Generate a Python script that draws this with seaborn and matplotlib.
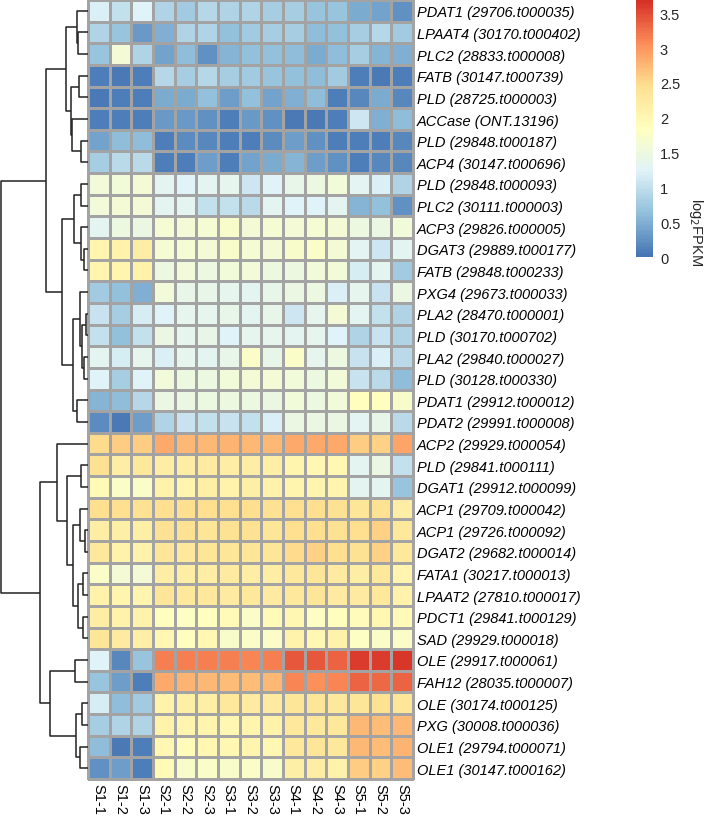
import numpy as np
import pandas as pd
import matplotlib
matplotlib.use("Agg")
import matplotlib.pyplot as plt
from matplotlib.colors import LinearSegmentedColormap
import seaborn as sns

sns.set_style("white")
plt.rcParams['font.family'] = ['Liberation Sans', 'DejaVu Sans']

samples = ["S1-1", "S1-2", "S1-3", "S2-1", "S2-2", "S2-3", "S3-1", "S3-2", "S3-3",
           "S4-1", "S4-2", "S4-3", "S5-1", "S5-2", "S5-3"]

genes = [
    "PDAT1 (29706.t000035)", "LPAAT4 (30170.t000402)", "PLC2 (28833.t000008)",
    "FATB (30147.t000739)", "PLD (28725.t000003)", "ACCase (ONT.13196)",
    "PLD (29848.t000187)", "ACP4 (30147.t000696)", "PLD (29848.t000093)",
    "PLC2 (30111.t000003)", "ACP3 (29826.t000005)", "DGAT3 (29889.t000177)",
    "FATB (29848.t000233)", "PXG4 (29673.t000033)", "PLA2 (28470.t000001)",
    "PLD (30170.t000702)", "PLA2 (29840.t000027)", "PLD (30128.t000330)",
    "PDAT1 (29912.t000012)", "PDAT2 (29991.t000008)", "ACP2 (29929.t000054)",
    "PLD (29841.t000111)", "DGAT1 (29912.t000099)", "ACP1 (29709.t000042)",
    "ACP1 (29726.t000092)", "DGAT2 (29682.t000014)", "FATA1 (30217.t000013)",
    "LPAAT2 (27810.t000017)", "PDCT1 (29841.t000129)", "SAD (29929.t000018)",
    "OLE (29917.t000061)", "FAH12 (28035.t000007)", "OLE (30174.t000125)",
    "PXG (30008.t000036)", "OLE1 (29794.t000071)", "OLE1 (30147.t000162)",
]

values = [
    [1.20, 1.00, 1.25, 0.85, 0.75, 0.90, 0.85, 0.85, 0.80, 0.80, 0.70, 0.70, 0.45, 0.40, 0.25],
    [0.85, 0.70, 0.30, 0.50, 0.85, 0.85, 0.65, 0.75, 0.80, 0.80, 0.60, 0.65, 0.80, 0.90, 0.75],
    [0.70, 1.60, 0.85, 0.40, 0.60, 0.25, 0.55, 0.65, 0.65, 0.60, 0.45, 0.60, 0.80, 0.55, 0.50],
    [0.10, 0.05, 0.10, 0.90, 0.80, 0.90, 0.80, 0.75, 0.70, 0.65, 0.60, 0.75, 0.10, 0.05, 0.10],
    [0.05, 0.10, 0.10, 0.45, 0.45, 0.65, 0.35, 0.65, 0.40, 0.50, 0.60, 0.10, 0.15, 0.45, 0.15],
    [0.10, 0.10, 0.10, 0.30, 0.30, 0.25, 0.10, 0.30, 0.25, 0.05, 0.05, 0.10, 1.10, 0.50, 0.60],
    [0.40, 0.60, 0.60, 0.10, 0.20, 0.15, 0.10, 0.10, 0.20, 0.35, 0.25, 0.10, 0.10, 0.10, 0.15],
    [0.80, 0.95, 0.95, 0.10, 0.10, 0.35, 0.10, 0.40, 0.45, 0.55, 0.35, 0.25, 0.10, 0.15, 0.15],
    [1.55, 1.55, 1.60, 1.30, 1.25, 1.30, 1.35, 1.10, 1.25, 1.40, 1.50, 1.55, 1.30, 1.20, 0.85],
    [1.55, 1.60, 1.60, 1.30, 1.30, 1.00, 1.00, 0.95, 1.30, 1.25, 1.25, 1.30, 0.55, 0.65, 0.25],
    [1.30, 1.50, 1.45, 1.65, 1.60, 1.65, 1.70, 1.60, 1.65, 1.60, 1.65, 1.60, 1.50, 1.45, 1.55],
    [2.05, 2.10, 2.20, 1.65, 1.65, 1.60, 1.70, 1.65, 1.60, 1.70, 1.75, 1.60, 1.30, 1.10, 1.30],
    [2.05, 2.05, 2.10, 1.50, 1.55, 1.50, 1.55, 1.55, 1.50, 1.50, 1.55, 1.55, 1.15, 1.30, 0.75],
    [0.75, 0.65, 0.50, 1.55, 1.40, 1.40, 1.35, 1.30, 1.40, 1.45, 1.50, 1.20, 1.35, 1.05, 1.45],
    [1.05, 0.80, 1.15, 1.25, 1.35, 1.35, 1.40, 1.30, 1.40, 1.10, 1.35, 1.60, 1.30, 1.00, 0.85],
    [1.00, 0.65, 1.00, 1.45, 1.35, 1.40, 1.25, 1.35, 1.35, 1.30, 1.35, 1.25, 0.85, 1.05, 0.85],
    [1.30, 1.15, 1.35, 1.20, 1.35, 1.30, 1.40, 1.75, 1.40, 1.75, 1.35, 1.50, 1.05, 1.20, 0.95],
    [1.25, 0.80, 1.25, 1.55, 1.50, 1.50, 1.55, 1.60, 1.60, 1.55, 1.50, 1.55, 1.05, 0.95, 0.60],
    [0.55, 0.60, 0.90, 1.45, 1.45, 1.50, 1.50, 1.50, 1.45, 1.55, 1.50, 1.55, 1.85, 1.85, 1.70],
    [0.20, 0.05, 0.35, 0.85, 1.05, 1.00, 1.05, 1.00, 1.20, 1.45, 1.45, 1.45, 1.30, 1.40, 0.95],
    [2.50, 2.60, 2.60, 2.85, 2.75, 2.75, 2.80, 2.75, 2.75, 2.85, 2.85, 2.85, 2.60, 2.55, 2.90],
    [2.40, 2.20, 2.30, 2.20, 2.20, 2.25, 2.20, 2.20, 2.15, 2.05, 2.00, 2.00, 1.30, 1.45, 1.00],
    [1.95, 1.75, 1.75, 2.10, 2.05, 2.15, 2.10, 2.15, 2.10, 2.05, 2.05, 2.05, 1.30, 1.30, 0.70],
    [2.45, 2.45, 2.40, 2.45, 2.45, 2.45, 2.45, 2.45, 2.40, 2.45, 2.45, 2.40, 2.35, 2.40, 2.20],
    [2.20, 2.15, 2.15, 2.40, 2.40, 2.35, 2.40, 2.40, 2.35, 2.45, 2.45, 2.40, 2.45, 2.55, 2.30],
    [2.30, 2.10, 2.10, 2.35, 2.30, 2.35, 2.35, 2.35, 2.35, 2.50, 2.55, 2.45, 2.40, 2.55, 2.30],
    [1.75, 1.60, 1.60, 2.20, 2.20, 2.20, 2.25, 2.20, 2.20, 2.30, 2.35, 2.25, 2.20, 2.30, 2.05],
    [2.10, 2.05, 2.05, 2.35, 2.30, 2.30, 2.25, 2.30, 2.25, 2.30, 2.35, 2.25, 2.25, 2.30, 2.10],
    [2.20, 2.10, 2.10, 1.85, 1.80, 1.85, 1.95, 1.75, 1.95, 2.00, 1.80, 1.85, 1.90, 2.00, 1.95],
    [2.35, 2.25, 2.15, 2.00, 1.85, 2.00, 1.70, 1.75, 1.75, 2.10, 2.00, 2.10, 1.80, 1.75, 1.75],
    [1.25, 0.15, 0.70, 3.15, 3.15, 3.15, 3.15, 3.10, 3.15, 3.40, 3.40, 3.35, 3.60, 3.60, 3.65],
    [0.70, 0.35, 0.10, 2.85, 2.80, 2.75, 2.70, 2.70, 2.75, 3.10, 3.05, 3.10, 3.35, 3.30, 3.35],
    [1.15, 0.60, 0.75, 2.10, 2.15, 2.15, 2.30, 2.25, 2.25, 2.35, 2.35, 2.30, 2.35, 2.40, 2.35],
    [0.80, 0.85, 0.85, 2.10, 2.05, 2.05, 2.00, 2.05, 2.10, 2.30, 2.30, 2.30, 2.75, 2.70, 2.75],
    [0.60, 0.05, 0.10, 2.00, 1.90, 2.00, 2.00, 2.05, 2.00, 2.30, 2.35, 2.30, 2.75, 2.70, 2.80],
    [0.25, 0.35, 0.10, 1.95, 1.70, 1.75, 1.70, 1.75, 1.70, 2.15, 2.20, 2.10, 2.60, 2.55, 2.70],
]

# Row dendrogram: (height, left, right); ints are row indices
tree = (87.7,
        (42.3,
         (21.7,
          (10.7, 0, (10.0, 1, 2)),
          (17.3, (9.0, 3, 4), (15.7, 5, (7.3, 6, 7)))),
         (26.0,
          (14.3, (7.3, 8, 9), (7.3, 10, (4.0, 11, 12))),
          (15.0, (7.7, 13, (6.0, (2.3, 14, 15), (4.3, 16, 17))), (10.7, 18, 19)))),
        (48.3,
         (31.0, 20,
          (21.0, (6.7, 21, 22),
           (15.0, (8.3, 23, (2.7, 24, 25)),
            (10.3, (5.3, 26, 27), (5.0, 28, 29))))),
         (38.3, (12.7, 30, 31), (11.7, (6.0, 32, 33), (7.7, 34, 35)))))

vmin, vmax = 0.0, 3.69
pal = ["#4575B4", "#91BFDB", "#E0F3F8", "#FFFFBF", "#FEE090", "#FC8D59", "#D73027"]
cmap = LinearSegmentedColormap.from_list("rdylbu_r", pal, N=100)

W, H = 707, 820
fig = plt.figure(figsize=(W / 100, H / 100), dpi=100)

hm_l, hm_r, hm_t, hm_b = 88, 413, 1, 780
ax = fig.add_axes([hm_l / W, 1 - hm_b / H, (hm_r - hm_l) / W, (hm_b - hm_t) / H])
cax = fig.add_axes([636 / W, 1 - 258 / H, 17 / W, 257 / H])
dax = fig.add_axes([0, 1 - hm_b / H, hm_l / W, (hm_b - hm_t) / H])

df = pd.DataFrame(values, index=genes, columns=samples)
sns.heatmap(df, ax=ax, cmap=cmap, vmin=vmin, vmax=vmax, linewidths=0.75,
            linecolor="#A3A3A3", cbar_ax=cax, xticklabels=True, yticklabels=True)
ax.collections[0].set_clip_on(False)

ax.yaxis.tick_right()
ax.tick_params(axis="both", length=0, pad=3)
ax.set_yticklabels(genes, rotation=0, fontstyle="italic", fontsize=10.5, color="black")
ax.set_xticklabels(samples, rotation=270, fontsize=10.5, color="black")
ax.set_xlabel("")
ax.set_ylabel("")

cb = ax.collections[0].colorbar
cb.outline.set_visible(False)
cb.set_ticks([0, 0.5, 1, 1.5, 2, 2.5, 3, 3.5])
cb.set_ticklabels(["0", "0.5", "1", "1.5", "2", "2.5", "3", "3.5"])
cax.tick_params(length=0, labelsize=10.5, pad=5)
fig.text(696 / W, 1 - 266 / H, "log$_2$FPKM", rotation=270, ha="center", va="bottom",
         fontsize=10.5)

# Dendrogram
def draw(node):
    if isinstance(node, int):
        return node + 0.5, 0.0
    h, left, right = node
    yl, hl = draw(left)
    yr, hr = draw(right)
    kw = dict(color="#222222", lw=1.1, solid_capstyle="butt", clip_on=False)
    dax.plot([hl, h, h, hr], [yl, yl, yr, yr], **kw)
    return (yl + yr) / 2, h

draw(tree)
dax.set_ylim(len(genes), 0)
dax.set_xlim(88.3, 0)
dax.axis("off")

fig.savefig("out.png", dpi=100)
